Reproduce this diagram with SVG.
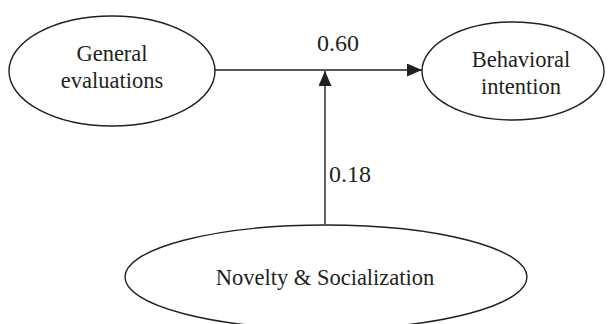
<svg xmlns="http://www.w3.org/2000/svg" width="612" height="324" viewBox="0 0 612 324">
<style>
.node{fill:#fff;stroke:#231f20;stroke-width:1.4}
.t{font-family:"Liberation Serif","Times New Roman",serif;font-size:22.5px;fill:#231f20;text-anchor:middle}
.lab{font-family:"Liberation Serif","Times New Roman",serif;font-size:24px;fill:#231f20}
.edge{stroke:#231f20;stroke-width:1.4;fill:none}
</style>
<defs>
<marker id="ah" viewBox="0 0 15 13" refX="15" refY="6.5" markerWidth="15" markerHeight="13" markerUnits="userSpaceOnUse" orient="auto">
<path d="M0,0 L15,6.5 L0,13 Z" fill="#231f20"/>
</marker>
</defs>
<rect width="612" height="324" fill="#fff"/>
<g id="general">
<ellipse class="node" cx="112" cy="71" rx="103" ry="55"/>
<text class="t" x="112" y="61">General</text>
<text class="t" x="112" y="88">evaluations</text>
</g>
<g id="behavioral">
<ellipse class="node" cx="513" cy="71" rx="91" ry="49"/>
<text class="t" x="521" y="67">Behavioral</text>
<text class="t" x="521" y="94">intention</text>
</g>
<g id="novelty">
<ellipse class="node" cx="326" cy="277" rx="201" ry="52"/>
<text class="t" x="325" y="285">Novelty &amp; Socialization</text>
</g>
<g id="connectors">
<line class="edge" x1="215" y1="70" x2="422" y2="70" marker-end="url(#ah)"/>
<line class="edge" x1="325" y1="224" x2="325" y2="71" marker-end="url(#ah)"/>
<text class="lab" x="317" y="51">0.60</text>
<text class="lab" x="329" y="182">0.18</text>
</g>
</svg>
